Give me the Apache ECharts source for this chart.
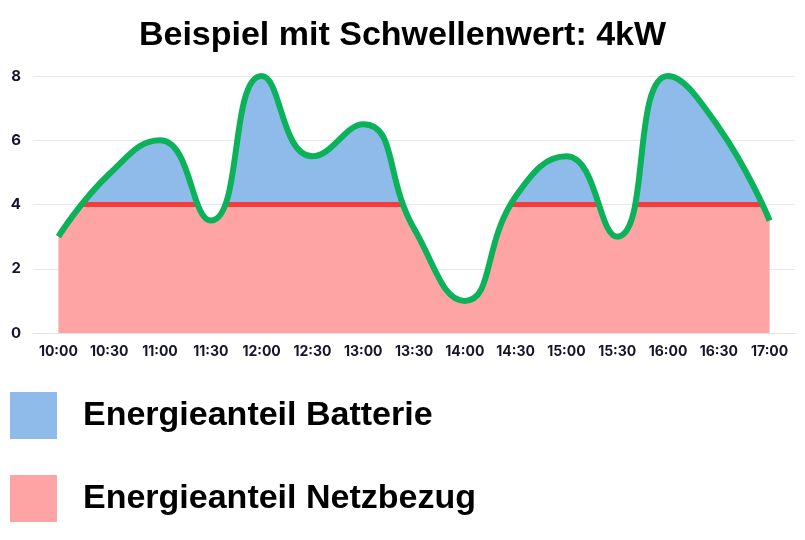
<!DOCTYPE html>
<html>
<head>
<meta charset="utf-8">
<script src="https://cdn.jsdelivr.net/npm/echarts@6/dist/echarts.min.js"></script>
<style>html,body{margin:0;padding:0;background:#fff}#c{width:805px;height:540px}</style>
</head>
<body>
<div id="c"></div>
<script>
const categories = ['10:00','10:30','11:00','11:30','12:00','12:30','13:00','13:30','14:00','14:30','15:00','15:30','16:00','16:30','17:00'];
const power = [3, 4.95, 6, 3.5, 8, 5.5, 6.5, 3.25, 1, 4.25, 5.5, 3, 8, 6.4, 3.5];
const threshold = 4;
const yTicks = [0, 2, 4, 6, 8];
const legendNames = ['Energieanteil Batterie', 'Energieanteil Netzbezug'];

const BLUE = '#8fbbea', RED_AREA = '#ffa4a4', RED_LINE = '#f43c3c', GREEN = '#0cb25a';
const chart = echarts.init(document.getElementById('c'), null, {renderer: 'canvas'});
chart.setOption({
  animation: false,
  title: {
    text: 'Beispiel mit Schwellenwert: 4kW',
    left: 'center', top: 14,
    textStyle: {fontFamily: 'Liberation Sans, Arial, sans-serif', fontWeight: 'bold', fontSize: 34, color: '#000'}
  },
  grid: {left: 33, right: 10, top: 76, bottom: 207},
  xAxis: {
    type: 'category', data: categories, boundaryGap: true,
    axisLine: {show: true, lineStyle: {color: '#e3e3e3'}},
    axisTick: {show: false},
    axisLabel: {interval: 0, margin: 12, color: '#15152a', fontFamily: 'Inter, sans-serif', fontWeight: 'bold', fontSize: 14}
  },
  yAxis: {
    type: 'value', min: yTicks[0], max: yTicks[yTicks.length - 1], interval: 2,
    axisLine: {show: false}, axisTick: {show: false},
    splitLine: {lineStyle: {color: '#e8e8e8'}},
    axisLabel: {margin: 12, color: '#15152a', fontFamily: 'Inter, sans-serif', fontWeight: 'bold', fontSize: 15}
  },
  visualMap: {
    show: false, type: 'piecewise', seriesIndex: 0, dimension: 1,
    pieces: [
      {lt: threshold - 0.075, color: RED_AREA},
      {gte: threshold - 0.075, lt: threshold + 0.075, color: RED_LINE},
      {gte: threshold + 0.075, color: BLUE}
    ]
  },
  legend: {
    orient: 'vertical', left: 10, top: 392, padding: 0, itemWidth: 47, itemHeight: 47, itemGap: 36,
    selectedMode: false, icon: 'rect',
    data: legendNames,
    textStyle: {fontFamily: 'Liberation Sans, Arial, sans-serif', fontWeight: 'bold', fontSize: 34, color: '#000', padding: [0, 0, 0, 21]}
  },
  series: [
    {
      type: 'line', data: power, smooth: true, symbol: 'none',
      lineStyle: {color: GREEN, width: 6},
      areaStyle: {opacity: 1},
      z: 3
    },
    {name: legendNames[0], type: 'bar', data: [], itemStyle: {color: BLUE}},
    {name: legendNames[1], type: 'bar', data: [], itemStyle: {color: RED_AREA}}
  ]
});
</script>
</body>
</html>
